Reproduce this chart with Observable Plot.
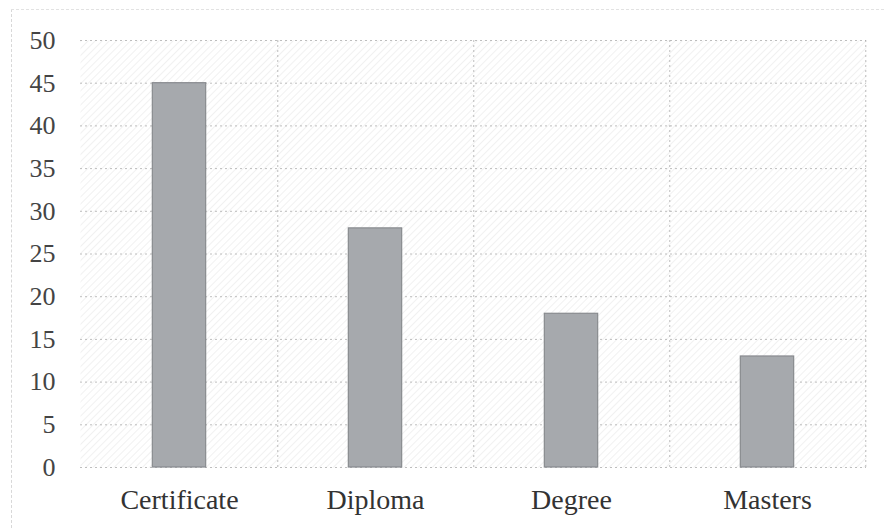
<!DOCTYPE html>
<html>
<head>
<meta charset="utf-8">
<script src="https://cdn.jsdelivr.net/npm/d3@7"></script>
<script src="https://cdn.jsdelivr.net/npm/@observablehq/plot@0.6"></script>
<style>
  html, body { margin: 0; padding: 0; background: #fff; }
  #chart { position: relative; width: 884px; height: 528px; }
  #edge { position: absolute; left: 11px; top: 9px; right: 0; bottom: 0;
          border-left: 1px dashed #d8d8d8; border-top: 1px dashed #e2e2e2; pointer-events: none; }
</style>
</head>
<body>
<div id="chart"><div id="edge"></div></div>
<script>
const categories = ["Certificate", "Diploma", "Degree", "Masters"];
const values = [45, 28, 18, 13];
const yTicks = [0, 5, 10, 15, 20, 25, 30, 35, 40, 45, 50];

const data = categories.map((c, i) => ({category: c, value: values[i]}));

const W = 884, H = 528, mL = 80, mR = 18, mT = 40, mB = 61;
const band = (W - mL - mR) / categories.length;

const plot = Plot.plot({
  width: W,
  height: H,
  marginLeft: mL,
  marginRight: mR,
  marginTop: mT,
  marginBottom: mB,
  style: {background: "transparent", fontFamily: "Liberation Serif", fontSize: "26px", color: "#333"},
  x: {domain: categories, padding: 0, label: null, tickSize: 0, tickPadding: 22},
  y: {domain: [0, 50], ticks: yTicks, label: null, tickSize: 0, tickPadding: 25},
  marks: [
    Plot.frame({fill: "url(#hatch)", stroke: "none"}),
    Plot.ruleY(yTicks, {stroke: "#a8a8a8", strokeWidth: 1, strokeDasharray: "2,3", strokeOpacity: 0.75}),
    Plot.ruleX(categories, {x: d => d, dx: band / 2, stroke: "#a8a8a8", strokeWidth: 1, strokeDasharray: "2,3", strokeOpacity: 0.75}),
    Plot.barY(data, {x: "category", y: "value", fill: "#a6a9ad", stroke: "#888b8f", strokeWidth: 1.2, insetLeft: band * 0.363, insetRight: band * 0.363}),
    Plot.axisY({ticks: yTicks, tickSize: 0, tickPadding: 25, fill: "#444", label: null}),
    Plot.axisX({tickSize: 0, tickPadding: 22, fill: "#333", label: null})
  ]
});

const svg = d3.select(plot);
// larger serif type for the category labels
svg.selectAll("text")
  .filter(function() { return categories.includes(this.textContent); })
  .style("font-size", "28px");

// hatch pattern definition
const defs = svg.insert("defs", ":first-child");
const pat = defs.append("pattern")
  .attr("id", "hatch")
  .attr("patternUnits", "userSpaceOnUse")
  .attr("width", 5).attr("height", 5)
  .attr("patternTransform", "rotate(45)");
pat.append("rect").attr("width", 5).attr("height", 5).attr("fill", "#fff");
pat.append("line").attr("x1", 0).attr("y1", 0).attr("x2", 0).attr("y2", 5)
  .attr("stroke", "#e6e6e6").attr("stroke-width", 1.1);

document.getElementById("chart").appendChild(plot);
plot.style.position = "absolute";
plot.style.left = "0";
plot.style.top = "0";
</script>
</body>
</html>
